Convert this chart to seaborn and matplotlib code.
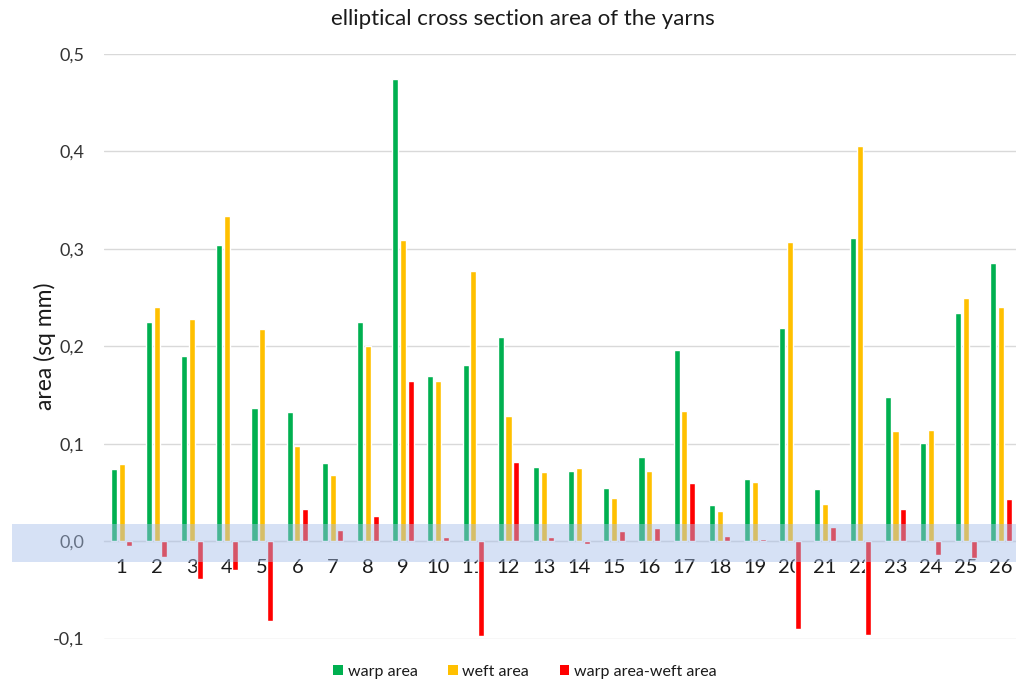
import matplotlib
matplotlib.use("Agg")
import matplotlib.pyplot as plt
from matplotlib.patches import Rectangle
from matplotlib.ticker import FuncFormatter, MultipleLocator
import seaborn as sns
import pandas as pd

# Sample numbers (x categories)
samples = [str(i) for i in range(1, 27)]

# Elliptical cross-section areas (sq mm)
warp_area = [0.074, 0.225, 0.190, 0.304, 0.137, 0.132, 0.080, 0.225, 0.474, 0.169,
             0.181, 0.210, 0.076, 0.072, 0.055, 0.086, 0.196, 0.037, 0.064, 0.219,
             0.053, 0.311, 0.148, 0.101, 0.234, 0.285]
weft_area = [0.079, 0.240, 0.228, 0.334, 0.218, 0.098, 0.068, 0.200, 0.309, 0.164,
             0.277, 0.128, 0.071, 0.075, 0.044, 0.072, 0.134, 0.031, 0.061, 0.307,
             0.038, 0.406, 0.113, 0.114, 0.250, 0.240]
difference = [-0.005, -0.016, -0.039, -0.030, -0.082, 0.033, 0.011, 0.026, 0.164, 0.004,
              -0.097, 0.081, 0.004, -0.003, 0.010, 0.013, 0.060, 0.005, 0.002, -0.090,
              0.014, -0.096, 0.033, -0.014, -0.017, 0.043]

series_names = ["warp area", "weft area", "warp area-weft area"]
series_colors = ["#00B050", "#FFC000", "#FF0000"]

df = pd.DataFrame({
    "sample": samples * 3,
    "area": warp_area + weft_area + difference,
    "series": [series_names[0]] * 26 + [series_names[1]] * 26 + [series_names[2]] * 26,
})

sns.set_style("white")
plt.rcParams["font.family"] = ["Lato", "DejaVu Sans"]

fig = plt.figure(figsize=(10.16, 6.84), dpi=100)
ax = fig.add_axes([0.1023, 1 - 638.5 / 684, 0.9003, (638.5 - 54) / 684])

sns.barplot(data=df, x="sample", y="area", hue="series", order=samples,
            hue_order=series_names, palette=series_colors, saturation=1,
            width=0.66, gap=0.22, legend=False, ax=ax, zorder=2)

ax.set_xlim(-0.5, 25.5)
ax.set_ylim(-0.1, 0.5)
ax.yaxis.set_major_locator(MultipleLocator(0.1))
ax.yaxis.set_major_formatter(FuncFormatter(lambda v, p: f"{v:.1f}".replace(".", ",")))
ax.yaxis.grid(True, color="#d9d9d9", lw=1)
ax.set_axisbelow(True)

for side in ["top", "right", "left"]:
    ax.spines[side].set_visible(False)
ax.spines["bottom"].set_position(("data", 0))
ax.spines["bottom"].set_color("#d9d9d9")
ax.spines["bottom"].set_zorder(1)

ax.tick_params(axis="x", length=0, pad=13, labelsize=14.5, labelcolor="#1a1a1a")
ax.tick_params(axis="y", length=0, pad=14, labelsize=13, labelcolor="#333333")
ax.set_xlabel("")
ax.set_ylabel("")

fig.text(45 / 1016, 1 - 346 / 684, "area (sq mm)", rotation=90, ha="center", va="center",
         fontsize=16.5, color="#1a1a1a")
fig.text(523 / 1016, 1 - 19 / 684, "elliptical cross section area of the yarns",
         ha="center", va="center", fontsize=16, color="#1a1a1a")

# Translucent band around zero
band = Rectangle((12 / 1016, 1 - 562 / 684), 1 - 12 / 1016, 38 / 684,
                 transform=fig.transFigure, facecolor="#A4BDE9", alpha=0.45,
                 edgecolor="none", zorder=5)
fig.patches.append(band)

handles = [Rectangle((0, 0), 1, 1, facecolor=c, edgecolor="none") for c in series_colors]
fig.legend(handles, series_names, loc="center", bbox_to_anchor=(525 / 1016, 1 - 672 / 684),
           ncol=3, frameon=False, fontsize=11.5, handlelength=0.6, handleheight=0.6,
           handletextpad=0.3, columnspacing=1.9, labelcolor="#1a1a1a")

fig.savefig("out.png", dpi=100)
